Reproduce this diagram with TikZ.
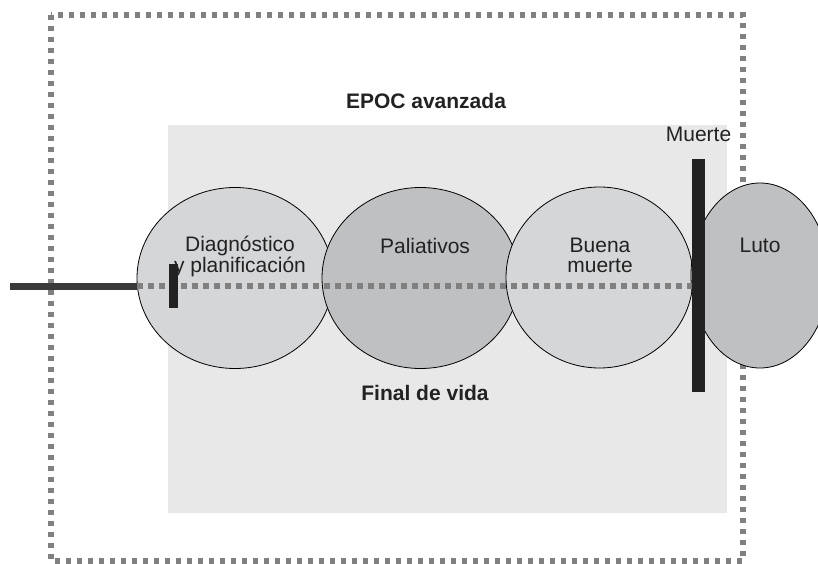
\documentclass[tikz,border=0pt]{standalone}
\usepackage{fontspec}
\setmainfont{Liberation Sans}
\usetikzlibrary{shapes.geometric}
\definecolor{panelgray}{HTML}{E8E8E8}
\definecolor{lightell}{HTML}{D5D6D8}
\definecolor{darkell}{HTML}{BFC0C2}
\definecolor{dotgray}{HTML}{808080}
\definecolor{inkdark}{HTML}{222222}
\definecolor{linedark}{HTML}{3A3A3A}
\tikzset{
  phase/.style={ellipse, draw=black, line width=0.8pt, inner sep=0pt},
  lbl/.style={font=\fontsize{21}{19.5}\selectfont, text=inkdark, align=center, inner sep=0pt, anchor=base},
  title/.style={font=\fontsize{21}{21}\selectfont\bfseries, text=inkdark, inner sep=0pt, anchor=base},
  dotline/.style={draw=dotgray, line width=6pt, dash pattern=on 6pt off 5pt},
  bar/.style={fill=inkdark, draw=none, inner sep=0pt, rectangle}
}
\begin{document}
\begin{tikzpicture}[x=1pt, y=-1pt]
\useasboundingbox (0,0) rectangle (818,564);
\clip (0,0) rectangle (818,564);
% outer dotted frame
\draw[draw=dotgray, line width=6.5pt, dash pattern=on 5pt off 6pt] (51,15) rectangle (743,561);
% inner panel
\fill[panelgray] (168,125) rectangle (727,513);
% titles
\node[title] (epoc) at (426,109) {EPOC avanzada};
\node[title] (final) at (425,400) {Final de vida};
% phases
\node[phase, fill=lightell, minimum width=196pt, minimum height=181pt] (diag) at (235,278) {};
\node[phase, fill=darkell, minimum width=197pt, minimum height=181pt] (pal) at (420.5,278) {};
\node[phase, fill=lightell, minimum width=187pt, minimum height=181pt] (buena) at (599.5,277.5) {};
\node[phase, fill=darkell, minimum width=138pt, minimum height=185pt] (luto) at (760,275.5) {};
% labels (base = baseline of last line)
\node[lbl] (tdiag) at (240,272) {Diagnóstico\\y planificación};
\node[lbl] (tpal) at (425,253) {Paliativos};
\node[lbl] (tbuena) at (600,272) {Buena\\muerte};
\node[lbl] (tluto) at (760,252) {Luto};
\node[lbl] (tmuerte) at (698.5,142) {Muerte};
% timeline
\coordinate (start) at (10,286);
\coordinate (dotend) at (708,286);
\draw[draw=linedark, line width=7pt] (start) -- (diag.west |- start);
\draw[dotline] (diag.west |- start) -- (dotend);
% bars
\node[bar, minimum width=9pt, minimum height=44pt] (smallbar) at (173.5,286) {};
\node[bar, minimum width=13pt, minimum height=233pt] (deathbar) at (698.5,275.5) {};
\end{tikzpicture}
\end{document}
